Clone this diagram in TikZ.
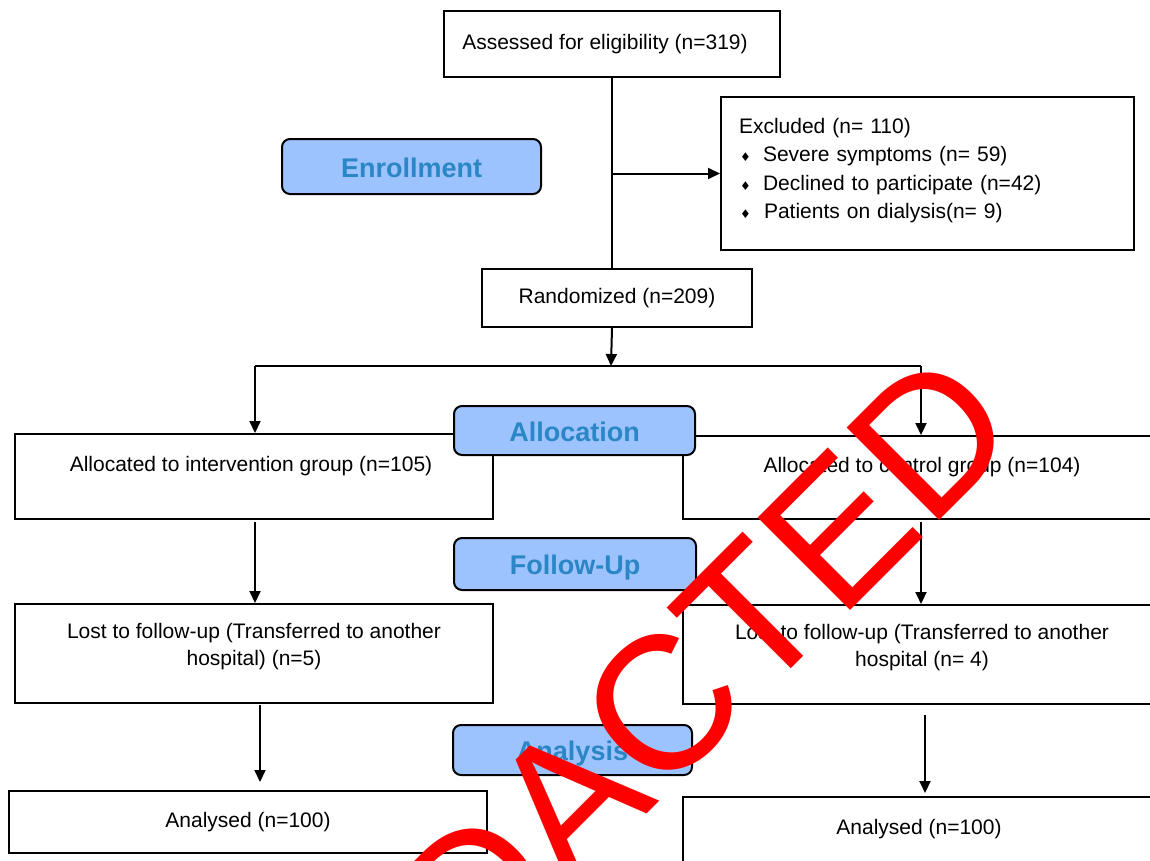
\documentclass[tikz,border=0pt]{standalone}
\usepackage{fontspec}
\setmainfont{Liberation Sans}
\newfontfamily\symfont{DejaVu Sans}
\usetikzlibrary{arrows.meta}
\definecolor{lblfill}{HTML}{9DC3FF}
\definecolor{lbltext}{HTML}{2A86C4}
\definecolor{redact}{HTML}{FF0000}
\newcommand{\exbullet}{\makebox[24pt][l]{\hspace{1pt}{\symfont\fontsize{12}{12}\selectfont ♦}}}
\begin{document}
\begin{tikzpicture}[x=1pt,y=-1pt,
  box/.style={draw=black, line width=2pt, fill=white, inner sep=0pt, align=center,
              font=\fontsize{21}{27}\selectfont, anchor=north west},
  stage/.style={draw=black, line width=2pt, fill=lblfill, rounded corners=8pt, text=lbltext,
              font=\fontsize{27}{30}\selectfont\bfseries, inner sep=0pt, anchor=north west,
              text height=21.5pt, text depth=0pt},
  conn/.style={line width=2pt, -{Triangle[length=12pt,width=11pt]}},
  plain/.style={line width=2pt},
  stamp/.style={text=redact, font=\fontsize{190}{190}\selectfont, rotate=45, inner sep=0pt}]
\useasboundingbox (0,0) rectangle (1150,860);
\clip (0,0) rectangle (1150,860);

% boxes
\node[box, minimum width=336pt, minimum height=66pt] (assess) at (443,10)
  {Assessed for eligibility (n=319)\hspace{14pt}};
\node[box, minimum width=413pt, minimum height=153pt, text width=377pt, inner xsep=18pt,
      align=left, font=\fontsize{21}{28.3}\selectfont] (excl) at (720,96)
  {Excluded (n= 110)\\
   \exbullet Severe symptoms (n= 59)\\
   \exbullet Declined to participate (n=42)\\
   \exbullet\hspace{1pt}Patients on dialysis(n= 9)\\[-18pt]\mbox{}};
\node[box, minimum width=270pt, minimum height=58pt] (random) at (481,268)
  {Randomized (n=209)};
\node[box, minimum width=478pt, minimum height=85pt, text depth=26pt] (allocL) at (14,433)
  {Allocated to intervention group (n=105)\hspace{6pt}};
\node[box, minimum width=478pt, minimum height=83pt, text depth=26pt] (allocR) at (682,435)
  {Allocated to control group (n=104)};
\node[box, minimum width=478pt, minimum height=99pt] (lostL) at (14,603)
  {Lost to follow-up (Transferred to another\\ hospital) (n=5)\\[-8pt]\mbox{}};
\node[box, minimum width=478pt, minimum height=99pt] (lostR) at (682,604)
  {Lost to follow-up (Transferred to another\\ hospital (n= 4)\\[-8pt]\mbox{}};
\node[box, minimum width=478pt, minimum height=62pt] (anaL) at (8,790)
  {Analysed (n=100)};
\node[box, minimum width=478pt, minimum height=74pt, text depth=14pt] (anaR) at (682,796)
  {Analysed (n=100)\hspace{6pt}};

% connectors
\draw[plain] (assess.south) -- (assess.south |- random.north);
\draw[conn] (assess.south |- excl.west) -- (excl.west);
\coordinate (split) at (611,366);
\draw[conn] (assess.south |- random.south) -- (split);
\coordinate (sl) at (255,366);
\coordinate (sr) at (921,366);
\draw[plain] (sl) -- (sr);
\draw[conn] (sl) -- (sl |- allocL.north);
\draw[conn] (sr) -- (sr |- allocR.north);
\coordinate (l1) at (255,522);
\draw[conn] (l1) -- (l1 |- lostL.north);
\coordinate (r1) at (921,522);
\draw[conn] (r1) -- (r1 |- lostR.north);
\coordinate (l2a) at (260,705);
\coordinate (l2b) at (260,782);
\draw[conn] (l2a) -- (l2b);
\coordinate (r2a) at (925,715);
\coordinate (r2b) at (925,793);
\draw[conn] (r2a) -- (r2b);

% stage labels
\node[stage, minimum width=259pt, minimum height=55pt] (enroll) at (281,138) {Enrollment};
\node[stage, minimum width=241pt, minimum height=49pt] (allocS) at (453,405) {Allocation};
\node[stage, minimum width=242pt, minimum height=52pt] (follow) at (453,537) {Follow-Up};
\node[stage, minimum width=239pt, minimum height=50pt] (analysis) at (452,724) {Analysis};

% stamp
\node[stamp] (wm) at (610,758) {REDACTED};
\end{tikzpicture}
\end{document}
